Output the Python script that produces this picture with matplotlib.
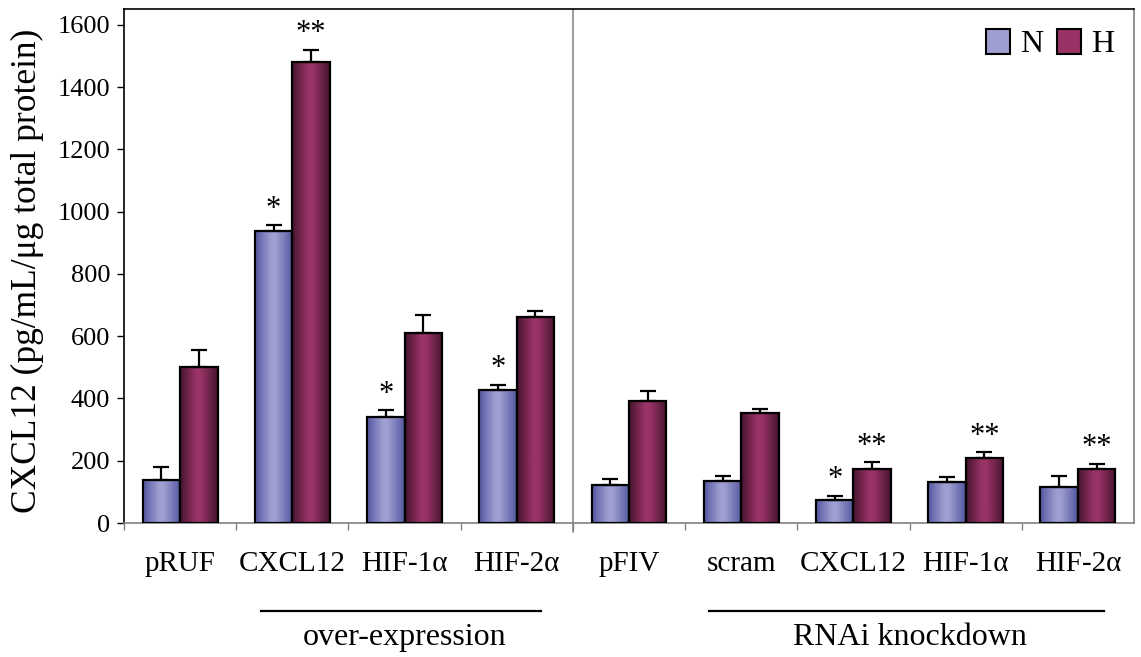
import numpy as np
import matplotlib
matplotlib.use("Agg")
import matplotlib.pyplot as plt
from matplotlib.patches import Patch
from matplotlib.colors import LinearSegmentedColormap
import matplotlib.transforms as mtransforms

# ---------------- data ----------------
categories = ['pRUF', 'CXCL12', 'HIF-1α', 'HIF-2α',
              'pFIV', 'scram', 'CXCL12', 'HIF-1α', 'HIF-2α']
n_values = [137, 937, 339, 427, 122, 136, 74, 131, 117]
n_errors = [43, 20, 23, 17, 18, 14, 14, 16, 33]
h_values = [500, 1481, 611, 663, 392, 353, 174, 210, 174]
h_errors = [56, 39, 58, 19, 32, 13, 22, 17, 16]
n_marks = ['', '*', '*', '*', '', '', '*', '', '']
h_marks = ['', '**', '', '', '', '', '**', '**', '**']
group_names = ['over-expression', 'RNAi knockdown']
group_members = [[1, 2, 3], [5, 6, 7, 8]]
series_names = ['N', 'H']
y_ticks = [0, 200, 400, 600, 800, 1000, 1200, 1400, 1600]
y_label = 'CXCL12 (pg/mL/μg total protein)'

# ---------------- style ----------------
plt.rcParams['font.family'] = ['Liberation Serif', 'DejaVu Serif']
N_LIGHT, N_DARK = (0.62, 0.62, 0.82), (0.33, 0.34, 0.63)
H_LIGHT, H_DARK = (0.60, 0.20, 0.40), (0.27, 0.08, 0.18)

fig = plt.figure(figsize=(11.41, 6.57), dpi=100)
ax = fig.add_axes([124 / 1141, 1 - 523 / 657, 1010 / 1141, 514 / 657])

x = np.arange(len(categories))
w = 1 / 3


def grad_cmap(light, dark):
    return LinearSegmentedColormap.from_list(
        'g', [(0.0, dark), (0.42, light), (0.55, light), (1.0, dark)])


gradient = np.linspace(0, 1, 256).reshape(1, -1)

for offs, vals, errs, light, dark in [(-w / 2, n_values, n_errors, N_LIGHT, N_DARK),
                                      (w / 2, h_values, h_errors, H_LIGHT, H_DARK)]:
    bars = ax.bar(x + offs, vals, width=w, facecolor='none', edgecolor='black',
                  linewidth=1.6, zorder=3)
    cm = grad_cmap(light, dark)
    for b in bars:
        bx, by = b.get_x(), b.get_y()
        bw, bh = b.get_width(), b.get_height()
        ax.imshow(gradient, extent=[bx, bx + bw, by, by + bh], aspect='auto',
                  cmap=cm, zorder=2, interpolation='bilinear')
    ax.errorbar(x + offs, vals, yerr=[np.zeros(len(vals)), errs], fmt='none',
                ecolor='black', elinewidth=1.6, capsize=6, capthick=1.6, zorder=4)

# significance marks
for offs, vals, errs, marks in [(-w / 2, n_values, n_errors, n_marks),
                                (w / 2, h_values, h_errors, h_marks)]:
    for xi, v, e, m in zip(x, vals, errs, marks):
        if m:
            ax.annotate(m, (xi + offs, v + e), xytext=(0, 11.5),
                        textcoords='offset points', ha='center', va='center',
                        fontsize=22, zorder=5)

ax.set_xlim(-0.5, len(categories) - 0.5)
ax.set_ylim(0, 1651)

# y axis
ax.set_yticks(y_ticks)
ax.set_yticklabels([str(t) for t in y_ticks], fontsize=19)
ax.tick_params(axis='y', direction='out', length=5, width=1, pad=5, color='black')

# x axis: ticks at boundaries, labels as text
ax.set_xticks(np.arange(-0.5, len(categories) - 1, 1.0))
ax.set_xticklabels([])
ax.tick_params(axis='x', direction='out', length=5, width=1, color='#808080')

for s in ['left', 'top']:
    ax.spines[s].set_color('black')
    ax.spines[s].set_linewidth(1.2)
for s in ['right', 'bottom']:
    ax.spines[s].set_color('#808080')
    ax.spines[s].set_linewidth(1.2)

trans = mtransforms.blended_transform_factory(ax.transData, fig.transFigure)
for xi, lab in zip(x, categories):
    ax.text(xi, 1 - 571 / 657, lab, transform=trans, ha='center',
            va='baseline', fontsize=21)

# divider between groups
ax.plot([3.5, 3.5], [1.0, -0.018], color='#808080', lw=1.1,
        transform=mtransforms.blended_transform_factory(ax.transData, ax.transAxes),
        clip_on=False, zorder=1)

# group labels and lines
half_spans = [1.25, 1.76]
for name, mem, hs in zip(group_names, group_members, half_spans):
    c = np.mean([x[i] for i in mem]) - 0.03
    ax.plot([c - hs, c + hs], [1 - 611 / 657] * 2, color='black', lw=1.6,
            transform=trans, clip_on=False)
    ax.text(c + 0.03, 1 - 645 / 657, name, transform=trans, ha='center',
            va='baseline', fontsize=23)

fig.text(27 / 1141, 1 - 271 / 657, y_label, rotation=90, ha='center',
         va='center', fontsize=25.5)

handles = [Patch(facecolor=N_LIGHT, edgecolor='black', linewidth=1.5),
           Patch(facecolor=H_LIGHT, edgecolor='black', linewidth=1.5)]
ax.legend(handles, series_names, loc='upper right', bbox_to_anchor=(0.98, 0.962),
          ncol=2, frameon=False, fontsize=23, handlelength=0.75, handleheight=0.85,
          handletextpad=0.3, columnspacing=0.45, borderpad=0, borderaxespad=0)

fig.savefig('out.png', dpi=100)
